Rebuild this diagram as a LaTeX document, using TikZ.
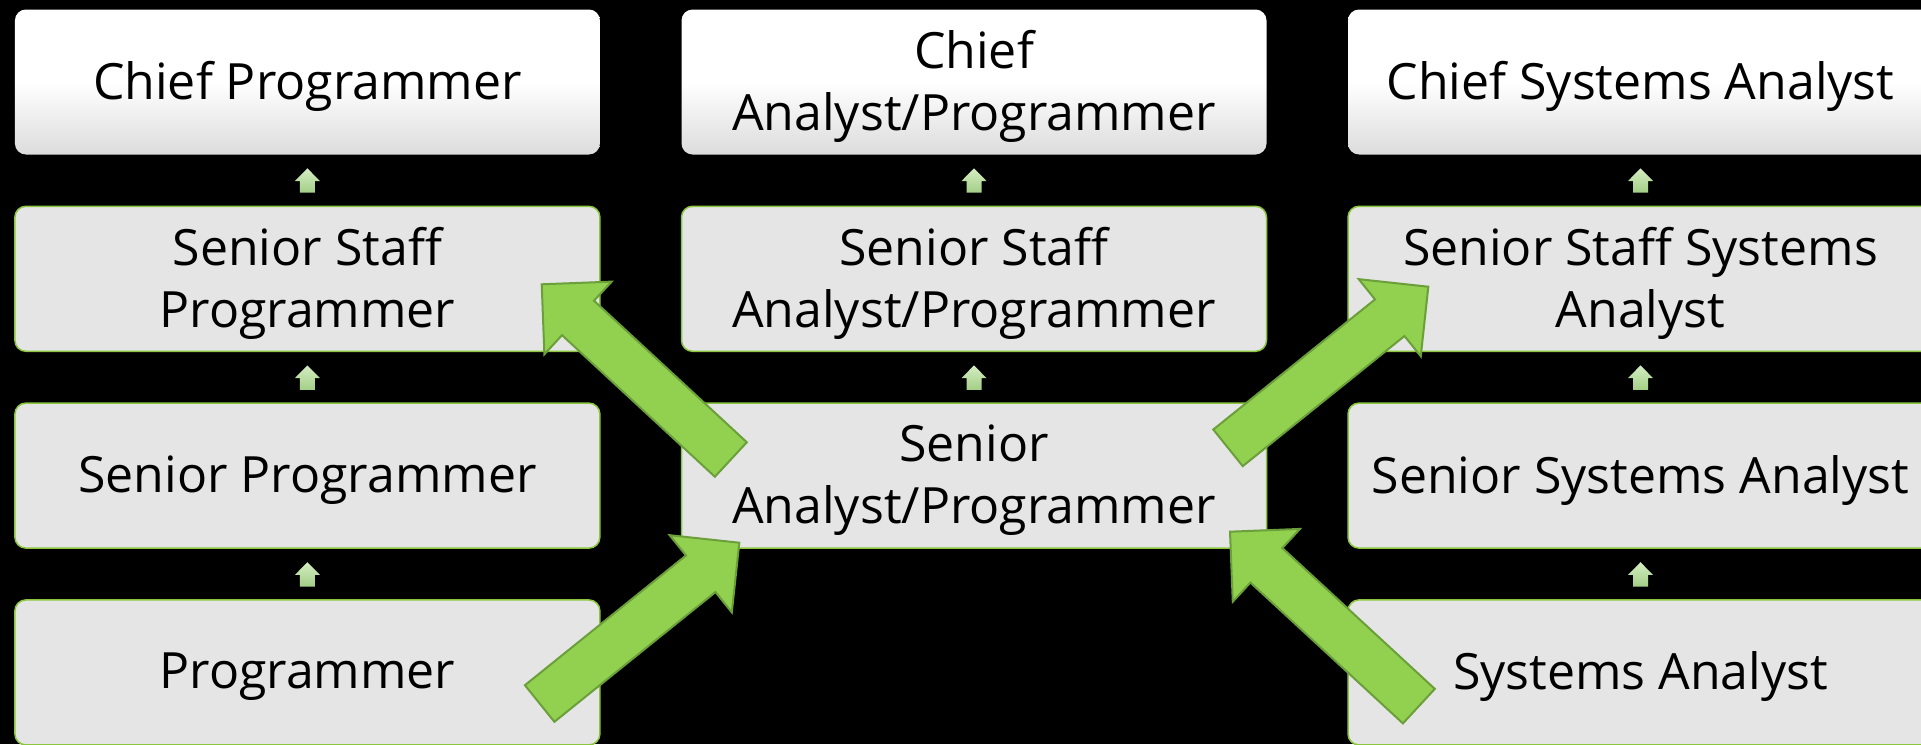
\documentclass[tikz,border=0pt]{standalone}
\usepackage{fontspec}
\setmainfont{Open Sans}
\usetikzlibrary{calc}
\definecolor{arrfill}{HTML}{92D050}
\definecolor{arrline}{HTML}{6B9F3A}
\definecolor{boxline}{HTML}{8CC63F}
\definecolor{boxfill}{HTML}{E5E5E5}
\definecolor{topgray}{HTML}{DCDCDC}
\definecolor{smalltop}{HTML}{D4ECC2}
\definecolor{smallbot}{HTML}{A3CF86}
\pgfdeclareverticalshading{topboxshade}{100bp}{color(0bp)=(topgray); color(25bp)=(topgray); color(50bp)=(white); color(75bp)=(white); color(100bp)=(white)}
\newcommand\steparrow[2]{%
  \coordinate (sm) at ($(#1.north)!0.5!(#2.south)$);
  \shade[top color=smalltop, bottom color=smallbot]
    ($(sm)+(0,-11.8)$) -- ($(sm)+(12.5,0.9)$) -- ($(sm)+(7.5,0.9)$) --
    ($(sm)+(7.5,12.6)$) -- ($(sm)+(-7.5,12.6)$) -- ($(sm)+(-7.5,0.9)$) --
    ($(sm)+(-12.5,0.9)$) -- cycle;}
\newcommand\promarrow[2]{%
  \coordinate (hb) at ($(#2)!49.5pt!(#1)$);
  \filldraw[bigarr] ($(#1)!23.5pt!90:(#2)$) -- ($(hb)!23.5pt!90:(#2)$) --
    ($(hb)!49.5pt!90:(#2)$) -- (#2) -- ($(hb)!49.5pt!-90:(#2)$) --
    ($(hb)!23.5pt!-90:(#2)$) -- ($(#1)!23.5pt!-90:(#2)$) -- cycle;}
\begin{document}
\begin{tikzpicture}[x=1pt, y=-1pt,
  boxbase/.style={rounded corners=11pt, minimum width=585pt, minimum height=145pt,
    align=center, text=black, inner sep=0pt, text depth=3pt,
    font=\fontsize{50pt}{62pt}\selectfont},
  box/.style={boxbase, draw=boxline, line width=1.5pt, fill=boxfill},
  topbox/.style={boxbase, draw=none, shading=topboxshade},
  bigarr/.style={fill=arrfill, draw=arrline, line width=2pt, miter limit=20}]
\useasboundingbox (0,0) rectangle (1921,744);
\fill[black] (0,0) rectangle (1921,744);
\clip (0,0) rectangle (1921,744);
% left column
\node[topbox] (p1) at (307.4,82) {Chief Programmer};
\node[box] (p2) at (307.4,278.8) {Senior Staff\\Programmer};
\node[box] (p3) at (307.4,475.6) {Senior Programmer};
\node[box] (p4) at (307.4,672.4) {Programmer};
% middle column
\node[topbox] (m1) at (974,82) {Chief\\Analyst/Programmer};
\node[box] (m2) at (974,278.8) {Senior Staff\\Analyst/Programmer};
\node[box] (m3) at (974,475.6) {Senior\\Analyst/Programmer};
% right column
\node[topbox] (s1) at (1640.5,82) {Chief Systems Analyst};
\node[box] (s2) at (1640.5,278.8) {Senior Staff Systems\\Analyst};
\node[box] (s3) at (1640.5,475.6) {Senior Systems Analyst};
\node[box] (s4) at (1640.5,672.4) {Systems Analyst};
% small step arrows
\steparrow{p2}{p1}
\steparrow{p3}{p2}
\steparrow{p4}{p3}
\steparrow{m2}{m1}
\steparrow{m3}{m2}
\steparrow{s2}{s1}
\steparrow{s3}{s2}
\steparrow{s4}{s3}
% big promotion arrows
\coordinate (aTail) at (730.85,459.5);  \coordinate (aTip) at (541.7,284.3);
\coordinate (bTail) at (539.65,703.5);  \coordinate (bTip) at (739.3,542.7);
\coordinate (cTail) at (1228,447.85);   \coordinate (cTip) at (1428.3,286.7);
\coordinate (dTail) at (1418.85,706.15);\coordinate (dTip) at (1230,531.7);
\promarrow{aTail}{aTip}
\promarrow{bTail}{bTip}
\promarrow{cTail}{cTip}
\promarrow{dTail}{dTip}
\end{tikzpicture}
\end{document}
